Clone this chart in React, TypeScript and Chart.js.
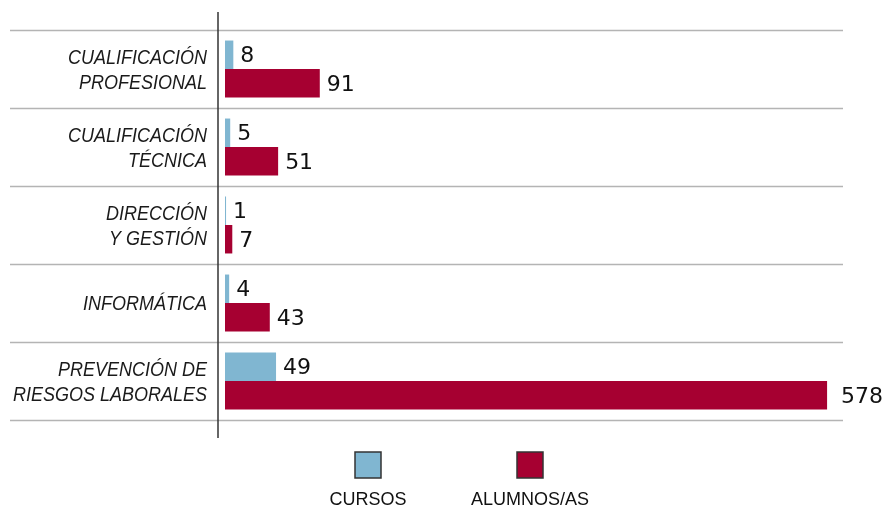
import React, { useEffect, useRef } from "react";
import { Chart, registerables } from "chart.js";

Chart.register(...registerables);

const categories: string[][] = [
  ["CUALIFICACIÓN", "PROFESIONAL"],
  ["CUALIFICACIÓN", "TÉCNICA"],
  ["DIRECCIÓN", "Y GESTIÓN"],
  ["INFORMÁTICA"],
  ["PREVENCIÓN DE", "RIESGOS LABORALES"],
];
const cursos: number[] = [8, 5, 1, 4, 49];
const alumnos: number[] = [91, 51, 7, 43, 578];
const seriesNames: string[] = ["CURSOS", "ALUMNOS/AS"];
const seriesColors: string[] = ["#80b6d1", "#a60031"];

const decorPlugin = {
  id: "decor",
  beforeDatasetsDraw(chart: any) {
    const ctx = chart.ctx;
    const area = chart.chartArea;
    const yScale = chart.scales.y;
    ctx.save();
    ctx.strokeStyle = "#b4b4b4";
    ctx.lineWidth = 1.5;
    const n = categories.length;
    const step = (area.bottom - area.top) / n;
    for (let i = 0; i <= n; i++) {
      const yy = Math.round(area.top + i * step) + 0.5;
      ctx.beginPath();
      ctx.moveTo(10, yy);
      ctx.lineTo(843, yy);
      ctx.stroke();
    }
    ctx.strokeStyle = "#333333";
    ctx.lineWidth = 1.5;
    ctx.beginPath();
    ctx.moveTo(218, 12);
    ctx.lineTo(218, 438);
    ctx.stroke();

    // category labels (narrow italic)
    ctx.fillStyle = "#1a1a1a";
    ctx.font = "italic 20px 'Liberation Sans'";
    ctx.textAlign = "right";
    ctx.textBaseline = "middle";
    const sx = 0.9;
    categories.forEach((lines, i) => {
      const cy = yScale.getPixelForValue(i) + 1.5;
      lines.forEach((line, k) => {
        const ly = cy + (k - (lines.length - 1) / 2) * 25;
        ctx.save();
        ctx.translate(207, ly);
        ctx.scale(sx, 1);
        ctx.fillText(line, 0, 0);
        ctx.restore();
      });
    });
    ctx.restore();
  },
  afterDatasetsDraw(chart: any) {
    const ctx = chart.ctx;
    ctx.save();
    ctx.font = "22px 'DejaVu Sans'";
    ctx.fillStyle = "#111111";
    ctx.textAlign = "left";
    ctx.textBaseline = "middle";
    chart.data.datasets.forEach((ds: any, i: number) => {
      const meta = chart.getDatasetMeta(i);
      meta.data.forEach((bar: any, j: number) => {
        const gap = ds.data[j] > 500 ? 14 : 7;
        ctx.fillText(String(ds.data[j]), bar.x + gap, bar.y + 2);
      });
    });
    // legend
    const centers = [368, 530];
    seriesNames.forEach((name, i) => {
      const cx = centers[i];
      ctx.fillStyle = seriesColors[i];
      ctx.fillRect(cx - 13, 452, 26, 26);
      ctx.strokeStyle = "#333333";
      ctx.lineWidth = 1.5;
      ctx.strokeRect(cx - 13, 452, 26, 26);
      ctx.fillStyle = "#111111";
      ctx.font = "18px 'Liberation Sans'";
      ctx.textAlign = "center";
      ctx.textBaseline = "alphabetic";
      ctx.fillText(name, cx, 505);
    });
    ctx.restore();
  },
};

export default function App() {
  const ref = useRef<HTMLCanvasElement | null>(null);
  useEffect(() => {
    if (!ref.current) return;
    const chart = new Chart(ref.current, {
      type: "bar",
      data: {
        labels: categories,
        datasets: [
          {
            label: seriesNames[0],
            data: cursos,
            backgroundColor: seriesColors[0],
            categoryPercentage: 0.73,
            barPercentage: 1,
          },
          {
            label: seriesNames[1],
            data: alumnos,
            backgroundColor: seriesColors[1],
            categoryPercentage: 0.73,
            barPercentage: 1,
          },
        ],
      },
      options: {
        indexAxis: "y",
        animation: false,
        responsive: false,
        maintainAspectRatio: false,
        layout: { padding: { top: 30, bottom: 86, right: 34, left: 0 } },
        plugins: { legend: { display: false }, tooltip: { enabled: false } },
        scales: {
          x: { display: false, min: 0, max: 600 },
          y: {
            border: { display: false },
            grid: { display: false },
            ticks: { display: false },
            afterFit(scale: any) {
              scale.width = 225;
            },
          },
        },
      },
      plugins: [decorPlugin],
    } as any);
    return () => chart.destroy();
  }, []);
  return (
    <div style={{ position: "fixed", left: 0, top: 0, width: 884, height: 506, background: "#fff" }}>
      <canvas ref={ref} width={884} height={506} style={{ width: 884, height: 506 }} />
    </div>
  );
}
